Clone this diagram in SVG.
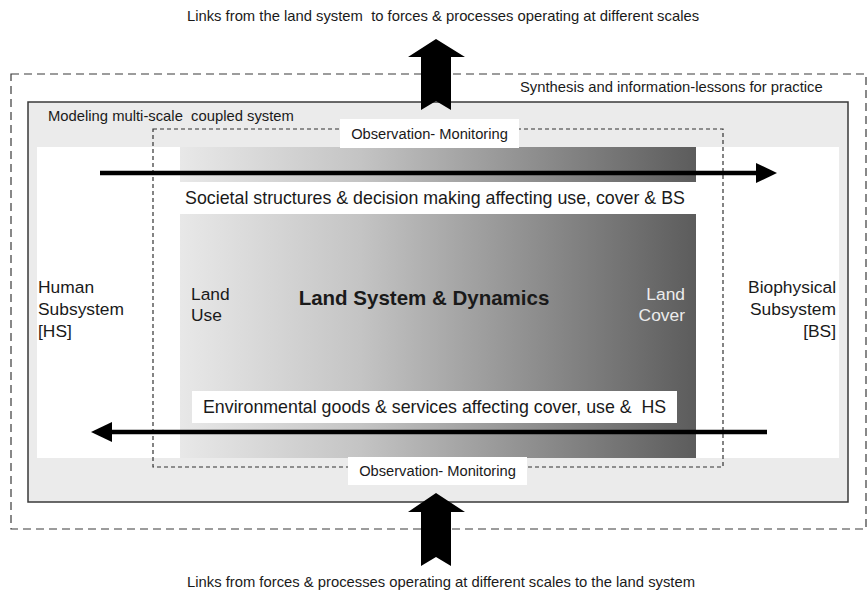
<svg xmlns="http://www.w3.org/2000/svg" width="868" height="595" viewBox="0 0 868 595">
<style>
text{font-family:"Liberation Sans",Arial,sans-serif;fill:#1a1a1a;white-space:pre}
.sm{font-size:14.8px}
.md{font-size:17.8px}
.lg{font-size:17.4px}
.obs{font-size:14.7px}
.box{fill:#ffffff}
.blk{fill:#000000}
</style>
<defs>
<linearGradient id="grad" x1="0" y1="0" x2="1" y2="0">
<stop offset="0" stop-color="#e8e8e8"/>
<stop offset="0.35" stop-color="#c4c4c4"/>
<stop offset="1" stop-color="#5c5c5c"/>
</linearGradient>
<marker id="head" markerUnits="userSpaceOnUse" markerWidth="22" markerHeight="22" refX="0" refY="10" orient="auto">
<path d="M0,0 L21,10 L0,20 Z" fill="#000"/>
</marker>
</defs>
<rect width="868" height="595" fill="#ffffff"/>

<g id="title-top"><text class="sm" x="443" y="21" text-anchor="middle" xml:space="preserve">Links from the land system  to forces &amp; processes operating at different scales</text></g>

<g id="synthesis">
<rect x="11" y="74" width="855" height="455" fill="none" stroke="#3a3a3a" stroke-width="1.2" stroke-dasharray="8,5"/>
<text class="sm" x="520" y="92">Synthesis and information-lessons for practice</text>
</g>

<g id="modeling">
<rect x="28" y="102" width="820" height="400" fill="#ebebeb" stroke="#3a3a3a" stroke-width="1.5"/>
<text class="sm" x="48" y="121" xml:space="preserve">Modeling multi-scale  coupled system</text>
</g>

<g id="subsystems">
<rect x="37" y="147" width="802" height="311" fill="#ffffff"/>
</g>

<g id="land-system">
<rect x="180" y="147" width="516" height="311" fill="url(#grad)"/>
<rect x="180" y="182" width="516" height="32" fill="#ffffff"/>
</g>

<g id="observation">
<rect x="153" y="129" width="570" height="338" fill="none" stroke="#333" stroke-width="1.2" stroke-dasharray="4,3"/>
<rect class="box" x="340" y="119" width="179" height="29"/>
<text class="obs" x="429.5" y="139" text-anchor="middle">Observation- Monitoring</text>
<rect class="box" x="348" y="457" width="179" height="28"/>
<text class="obs" x="437.5" y="476" text-anchor="middle">Observation- Monitoring</text>
</g>

<g id="societal">
<text class="md" x="435" y="204" text-anchor="middle">Societal structures &amp; decision making affecting use, cover &amp; BS</text>
</g>

<g id="environmental">
<rect class="box" x="192" y="391" width="485" height="32"/>
<text class="md" x="203" y="413" xml:space="preserve">Environmental goods &amp; services affecting cover, use &amp;  HS</text>
</g>

<g id="human">
<text class="lg" x="38" y="293">Human</text>
<text class="lg" x="38" y="315">Subsystem</text>
<text class="lg" x="38" y="337">[HS]</text>
</g>

<g id="land-use">
<text class="lg" x="191" y="300">Land</text>
<text class="lg" x="191" y="321">Use</text>
</g>

<g id="land-title">
<text x="424" y="305" text-anchor="middle" font-size="20.5" font-weight="bold">Land System &amp; Dynamics</text>
</g>

<g id="land-cover">
<text class="lg" x="685" y="300" text-anchor="end" style="fill:#ececec">Land</text>
<text class="lg" x="685" y="321" text-anchor="end" style="fill:#ececec">Cover</text>
</g>

<g id="biophysical">
<text class="lg" x="836" y="293" text-anchor="end">Biophysical</text>
<text class="lg" x="836" y="315" text-anchor="end">Subsystem</text>
<text class="lg" x="836" y="337" text-anchor="end">[BS]</text>
</g>

<g id="title-bottom"><text class="sm" x="441" y="587" text-anchor="middle">Links from forces &amp; processes operating at different scales to the land system</text></g>

<g id="connectors">
<line x1="100" y1="173" x2="756" y2="173" stroke="#000" stroke-width="4.5" marker-end="url(#head)"/>
<line x1="767" y1="432" x2="112" y2="432" stroke="#000" stroke-width="4.5" marker-end="url(#head)"/>
<polygon class="blk" points="436,39 465,57 451,57 451,110 436,101 421,110 421,57 408,57"/>
<polygon class="blk" points="436,493 465,512 451,512 451,566 436,557 421,566 421,512 408,512"/>
</g>
</svg>
